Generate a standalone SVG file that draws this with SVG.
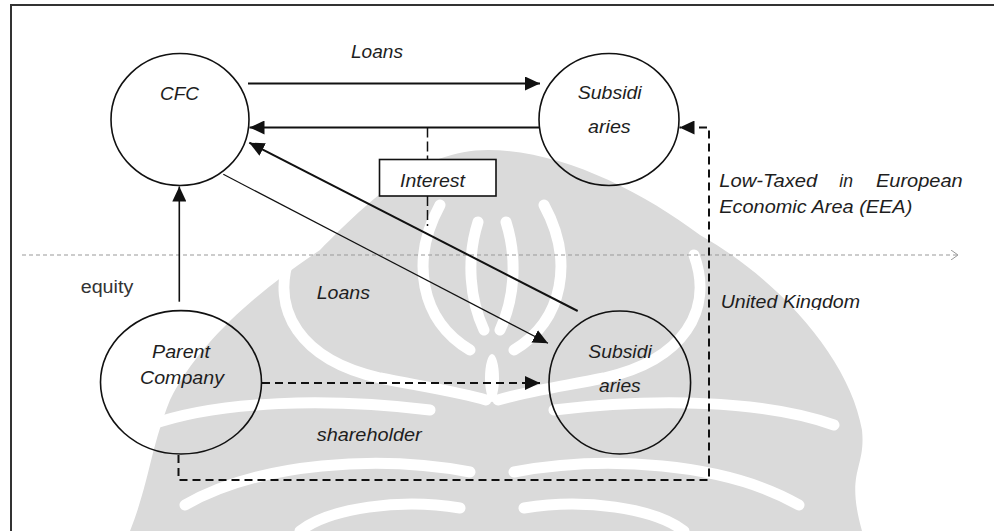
<svg xmlns="http://www.w3.org/2000/svg" width="994" height="531" viewBox="0 0 994 531">
<style>
.t{font-family:"Liberation Sans",Arial,sans-serif;font-size:18px;font-style:italic;fill:#1e1e1e}
.n{fill:none;stroke:#111;stroke-width:1.6}
.c{fill:none;stroke:#111}
.wm{fill:none;stroke:#fff;stroke-width:11;stroke-linecap:round}
</style>
<defs>
<marker id="ah" markerUnits="userSpaceOnUse" markerWidth="16" markerHeight="14" refX="15" refY="7" orient="auto">
<path d="M0,0 L15,7 L0,14 Z" fill="#111"/>
</marker>
<marker id="ch" markerUnits="userSpaceOnUse" markerWidth="8" markerHeight="10" refX="7" refY="5" orient="auto">
<path d="M0,0 L7,5 L0,10" fill="none" stroke="#999" stroke-width="1"/>
</marker>
<clipPath id="ukclip"><rect x="700" y="280" width="200" height="30"/></clipPath>
</defs>
<rect width="994" height="531" fill="#fff"/>
<g id="watermark">
<path d="M488,150 C560,150 640,190 700,235 C780,280 850,360 862,430 C866,470 845,470 862,531 L130,531 C150,480 150,450 170,400 C200,340 260,290 320,250 C370,200 420,150 488,150 Z" fill="#dadada"/>
<path class="wm" d="M290,255 C270,310 300,360 380,378 C420,386 460,392 486,400"/>
<path class="wm" d="M694,255 C714,310 684,360 604,378 C564,386 524,392 498,400"/>
<path class="wm" d="M440,205 C410,260 420,320 470,350"/>
<path class="wm" d="M544,205 C574,260 564,320 514,350"/>
<path class="wm" d="M478,222 C466,260 470,300 484,330" stroke-width="8"/>
<path class="wm" d="M506,222 C518,260 514,300 500,330" stroke-width="8"/>
<path class="wm" d="M150,425 C220,400 330,398 430,410"/>
<path class="wm" d="M834,425 C764,400 654,398 554,410"/>
<path class="wm" d="M185,505 C260,462 380,455 470,472"/>
<path class="wm" d="M799,505 C724,462 604,455 514,472"/>
<path class="wm" d="M300,531 C330,508 400,498 460,508"/>
<path class="wm" d="M684,531 C654,508 584,498 524,508"/>
<ellipse cx="492" cy="378" rx="7" ry="24" fill="#fff"/>
</g>
<g id="frame" fill="none" stroke="#333" stroke-width="2">
<path d="M11,531 V5 H994"/>
</g>
<g id="border-line">
<line x1="22" y1="255" x2="958" y2="255" stroke="#999" stroke-width="1" stroke-dasharray="4,3" marker-end="url(#ch)"/>
</g>
<g id="connectors">
<line class="c" x1="248" y1="83.5" x2="540" y2="83.5" stroke-width="2" marker-end="url(#ah)"/>
<line class="c" x1="539" y1="127.5" x2="249.5" y2="127.5" stroke-width="1.8" marker-end="url(#ah)"/>
<line class="c" x1="427.5" y1="127.5" x2="427.5" y2="159.5" stroke-width="1.5" stroke-dasharray="10,4"/>
<line class="c" x1="427.5" y1="196" x2="427.5" y2="226" stroke-width="1.5" stroke-dasharray="10,4"/>
<line class="c" x1="577.7" y1="311" x2="249.3" y2="142.7" stroke-width="2" marker-end="url(#ah)"/>
<line class="c" x1="223.3" y1="174.3" x2="548" y2="343.3" stroke-width="1.2" marker-end="url(#ah)"/>
<line class="c" x1="179.3" y1="301.7" x2="179.3" y2="186.5" stroke-width="1.6" marker-end="url(#ah)"/>
<line class="c" x1="262" y1="383" x2="540" y2="383" stroke-width="2" stroke-dasharray="8,5" marker-end="url(#ah)"/>
<path class="c" d="M178.5,455 V480 H709 V127.5 H679.5" stroke-width="2" stroke-dasharray="8,5" marker-end="url(#ah)"/>
</g>
<g id="cfc">
<ellipse class="n" cx="180" cy="119.5" rx="69" ry="66"/>
<text class="t" x="160" y="100" textLength="39" lengthAdjust="spacingAndGlyphs">CFC</text>
</g>
<g id="subsidiaries-eea">
<ellipse class="n" cx="609" cy="119.5" rx="70" ry="66"/>
<text class="t" x="577.7" y="99.3" textLength="64" lengthAdjust="spacingAndGlyphs">Subsidi</text>
<text class="t" x="588" y="132.7" textLength="42.7" lengthAdjust="spacingAndGlyphs">aries</text>
</g>
<g id="parent-company">
<ellipse class="n" cx="181" cy="382.3" rx="80.5" ry="71.7"/>
<text class="t" x="152" y="357.7" textLength="58" lengthAdjust="spacingAndGlyphs">Parent</text>
<text class="t" x="140" y="384.3" textLength="84" lengthAdjust="spacingAndGlyphs">Company</text>
</g>
<g id="subsidiaries-uk">
<ellipse class="n" cx="619.8" cy="382.5" rx="70.8" ry="71.5"/>
<text class="t" x="588.3" y="357.7" textLength="63.4" lengthAdjust="spacingAndGlyphs">Subsidi</text>
<text class="t" x="599" y="391.7" textLength="41.7" lengthAdjust="spacingAndGlyphs">aries</text>
</g>
<g id="interest">
<rect x="379.5" y="159.5" width="116.5" height="36.5" fill="#fff" stroke="#111" stroke-width="1.6"/>
<text class="t" x="400" y="186.7" textLength="65" lengthAdjust="spacingAndGlyphs">Interest</text>
</g>
<g id="labels">
<text class="t" x="351" y="58.3" textLength="52" lengthAdjust="spacingAndGlyphs">Loans</text>
<text class="t" x="316.7" y="299.3" textLength="53.3" lengthAdjust="spacingAndGlyphs">Loans</text>
<text class="t" x="316.7" y="440.7" textLength="105" lengthAdjust="spacingAndGlyphs">shareholder</text>
<text x="80.7" y="292.7" textLength="52.6" lengthAdjust="spacingAndGlyphs" style="font-family:'Liberation Sans',Arial,sans-serif;font-size:18px;fill:#333">equity</text>
<text class="t" x="719.3" y="186.7" textLength="98" lengthAdjust="spacingAndGlyphs">Low-Taxed</text>
<text class="t" x="839.3" y="186.7" textLength="13.7" lengthAdjust="spacingAndGlyphs">in</text>
<text class="t" x="876" y="186.7" textLength="86.7" lengthAdjust="spacingAndGlyphs">European</text>
<text class="t" x="719.3" y="212.7" textLength="193" lengthAdjust="spacingAndGlyphs">Economic Area (EEA)</text>
<text class="t" x="720.7" y="308.3" textLength="139.3" lengthAdjust="spacingAndGlyphs" clip-path="url(#ukclip)">United Kingdom</text>
</g>
</svg>
